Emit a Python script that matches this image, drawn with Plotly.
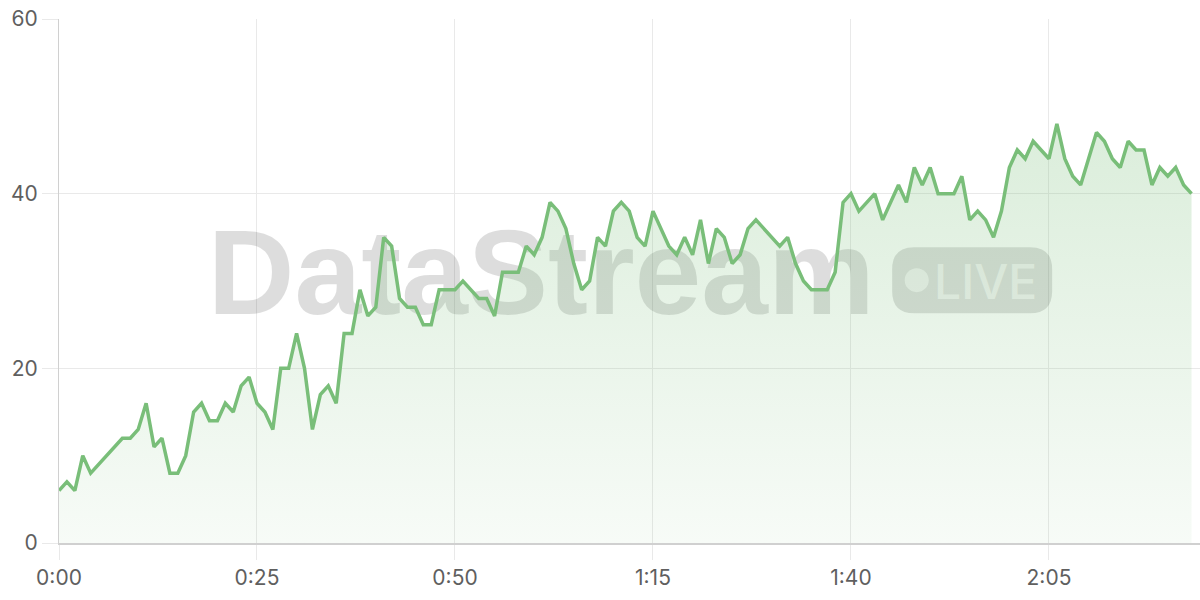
import plotly.graph_objects as go

# ---- data -------------------------------------------------------------
seconds = list(range(144))  # one sample per second
values = [
    6, 7, 6, 10, 8, 9, 10, 11, 12, 12, 13, 16, 11, 12, 8, 8, 10, 15, 16, 14,
    14, 16, 15, 18, 19, 16, 15, 13, 20, 20, 24, 20, 13, 17, 18, 16, 24, 24,
    29, 26, 27, 35, 34, 28, 27, 27, 25, 25, 29, 29, 29, 30, 29, 28, 28, 26,
    31, 31, 31, 34, 33, 35, 39, 38, 36, 32, 29, 30, 35, 34, 38, 39, 38, 35,
    34, 38, 36, 34, 33, 35, 33, 37, 32, 36, 35, 32, 33, 36, 37, 36, 35, 34,
    35, 32, 30, 29, 29, 29, 31, 39, 40, 38, 39, 40, 37, 39, 41, 39, 43, 41,
    43, 40, 40, 40, 42, 37, 38, 37, 35, 38, 43, 45, 44, 46, 45, 44, 48, 44,
    42, 41, 44, 47, 46, 44, 43, 46, 45, 45, 41, 43, 42, 43, 41, 40,
]
x_tick_values = [0, 25, 50, 75, 100, 125]
x_tick_labels = ["0:00", "0:25", "0:50", "1:15", "1:40", "2:05"]
y_tick_values = [0, 20, 40, 60]
y_tick_labels = ["0", "20", "40", "60"]

watermark_text = "DataStream"
badge_text = "LIVE"

# ---- styling ----------------------------------------------------------
GREEN = "rgb(121,190,121)"
GRID = "#e9e9e9"
AXIS = "#d0d0d0"
TICKFONT = dict(family="Inter, 'DejaVu Sans', sans-serif", size=21, color="#5f5f5f")
WM = "rgba(0,0,0,0.135)"

fig = go.Figure()
fig.add_trace(go.Scatter(
    x=seconds, y=values, mode="lines",
    line=dict(color=GREEN, width=3.5),
    fill="tozeroy",
    fillgradient=dict(
        type="vertical", start=0, stop=48,
        colorscale=[[0, "rgba(121,190,121,0.06)"], [1, "rgba(121,190,121,0.27)"]],
    ),
    hoverinfo="skip", showlegend=False,
))

shapes = []
# watermark word
shapes.append(dict(
    type="rect", xref="x", yref="y", layer="between",
    x0=60.9, x1=60.9, y0=32.3, y1=32.3,
    line=dict(width=0), fillcolor="rgba(0,0,0,0)",
    label=dict(text=watermark_text, textposition="middle center",
               font=dict(family="Liberation Sans, Arial, sans-serif", size=120,
                         weight="bold", color=WM)),
))
# LIVE pill (rounded rectangle, pixel sized around an anchor)
w, h, r = 80, 33, 22
pill = (f"M {-w + r},{-h} L {w - r},{-h} Q {w},{-h} {w},{-h + r} "
        f"L {w},{h - r} Q {w},{h} {w - r},{h} L {-w + r},{h} "
        f"Q {-w},{h} {-w},{h - r} L {-w},{-h + r} Q {-w},{-h} {-w + r},{-h} Z")
shapes.append(dict(
    type="path", xref="x", yref="y", layer="between",
    xsizemode="pixel", ysizemode="pixel", xanchor=115.3, yanchor=30.1,
    path=pill, line=dict(width=0), fillcolor=WM,
))
# dot in the pill
shapes.append(dict(
    type="circle", xref="x", yref="y", layer="between",
    xsizemode="pixel", ysizemode="pixel", xanchor=108.3, yanchor=30.1,
    x0=-12, x1=12, y0=-12, y1=12,
    line=dict(width=0), fillcolor="rgba(255,255,255,0.6)",
))
# LIVE text
shapes.append(dict(
    type="rect", xref="x", yref="y", layer="between",
    x0=117.0, x1=117.0, y0=30.1, y1=30.1,
    line=dict(width=0), fillcolor="rgba(0,0,0,0)",
    label=dict(text=badge_text, textposition="middle center",
               font=dict(family="Inter, 'DejaVu Sans', sans-serif", size=48,
                         weight=500, color="rgba(255,255,255,0.62)")),
))

fig.update_layout(
    width=1200, height=600,
    margin=dict(l=59, r=0, t=19, b=57, autoexpand=False),
    paper_bgcolor="white", plot_bgcolor="white",
    shapes=shapes,
    hovermode=False,
    xaxis=dict(
        range=[0, 144.07], tickmode="array", tickvals=x_tick_values, ticktext=x_tick_labels,
        showgrid=True, gridcolor=GRID, gridwidth=1,
        ticks="outside", ticklen=15, tickcolor=GRID, tickwidth=1,
        showline=True, linecolor=AXIS, linewidth=1.5,
        zeroline=False, tickfont=TICKFONT, fixedrange=True, automargin=False,
        ticklabeloverflow="allow",
    ),
    yaxis=dict(
        range=[0, 60], tickmode="array", tickvals=y_tick_values, ticktext=y_tick_labels,
        showgrid=True, gridcolor=GRID, gridwidth=1,
        ticks="outside", ticklen=16, tickcolor=GRID, tickwidth=1,
        showline=True, linecolor=AXIS, linewidth=1,
        zeroline=False, tickfont=TICKFONT, fixedrange=True, automargin=False,
        ticklabeloverflow="allow",
    ),
)

# remove the default 8px page margin so the 1200x600 figure fills the window
fig.write_html(
    "out.html",
    config={"displayModeBar": False, "staticPlot": True},
    post_script="document.body.style.margin='0';document.body.style.overflow='hidden';",
)
